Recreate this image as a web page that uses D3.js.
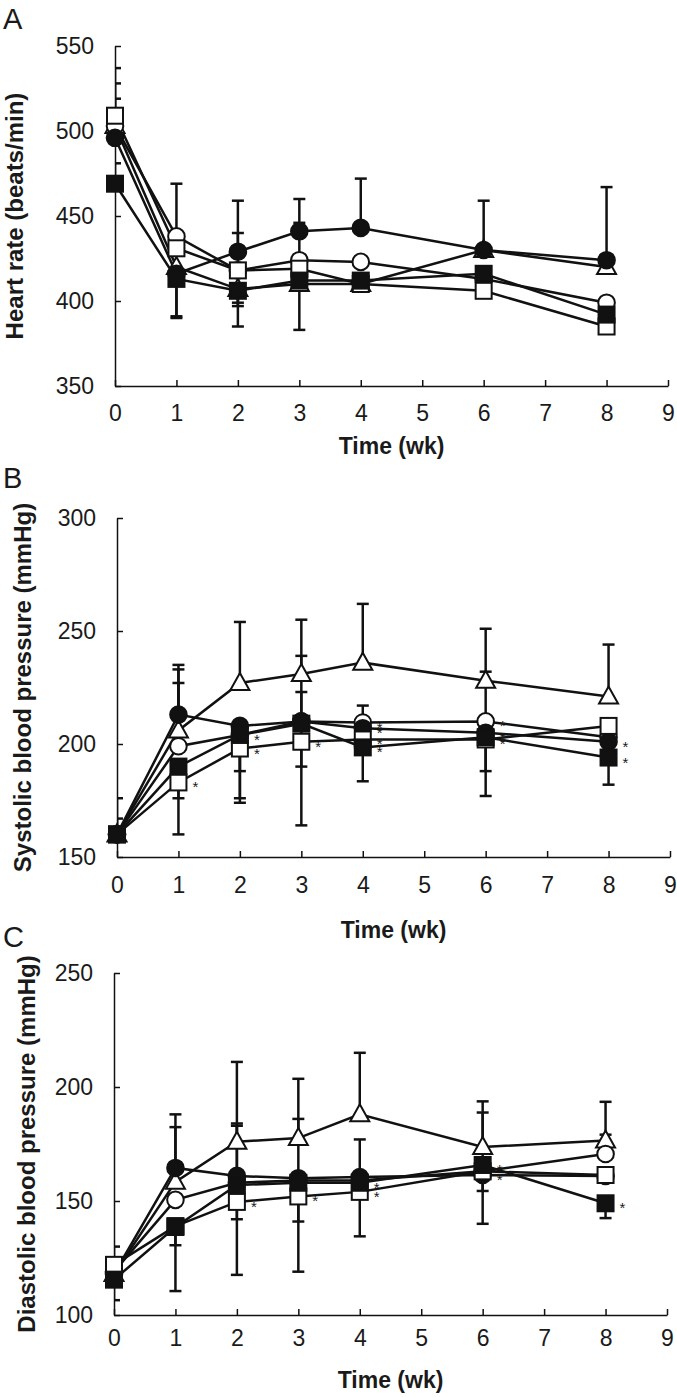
<!DOCTYPE html>
<html>
<head>
<meta charset="utf-8">
<script src="https://cdn.jsdelivr.net/npm/d3@7"></script>
<style>
  body { margin: 0; background: #fff; }
  svg { display: block; }
  text { font-family: "Liberation Sans", Arial, sans-serif; fill: #1a1a1a; }
</style>
</head>
<body>
<div id="chart"></div>
<script>
// time points (weeks) and axis ticks
const weeks = [0, 1, 2, 3, 4, 6, 8];
const xTicks = [0, 1, 2, 3, 4, 5, 6, 7, 8, 9];
const shapes = ["openTriangle", "openCircle", "filledCircle", "openSquare", "filledSquare"];

// A - heart rate (beats/min)
const hrTicks = [350, 400, 450, 500, 550];
const hrOpenTriangle = [503, 420, 407, 410, 410, 430, 420];
const hrOpenCircle = [503, 438, 418, 424, 423, 413, 399];
const hrFilledCircle = [496, 416, 429, 441, 443, 430, 424];
const hrOpenSquare = [509, 431, 418, 419, 410, 406, 385];
const hrFilledSquare = [469, 413, 406, 412, 412, 416, 392];
// error bars (+ drawn up, - drawn down, 0 none)
const hrErrOpenTriangle = [0, 0, -10, 0, 0, 0, 0];
const hrErrOpenCircle = [25, 31, -19, 22, 0, 0, 0];
const hrErrFilledCircle = [23, -25, 30, 19, 29, 29, 43];
const hrErrOpenSquare = [28, 0, 22, 0, 0, 0, 0];
const hrErrFilledSquare = [12, -23, -21, -29, 0, 0, 0];

// B - systolic blood pressure (mmHg)
const sbpTicks = [150, 200, 250, 300];
const sbpOpenTriangle = [160, 206, 227, 231, 236, 228, 221];
const sbpOpenCircle = [160, 199, 204, 210, 209.5, 210, 203];
const sbpFilledCircle = [160, 213, 208, 210, 207, 205, 201];
const sbpOpenSquare = [160, 183, 198, 201, 202, 202, 208];
const sbpFilledSquare = [160, 190, 204, 209, 198.5, 203, 194];
const sbpErrOpenTriangle = [0, 27, 27, 24, 26, 23, 23];
const sbpErrOpenCircle = [7, 28, -16, 29, 0, 22, 0];
const sbpErrFilledCircle = [16, 22, 0, 13, 10, 0, 0];
const sbpErrOpenSquare = [0, -23, -22, -37, 0, -25, 0];
const sbpErrFilledSquare = [0, -14, -30, -19, -15, -15, -12];
// weeks marked with *
const sbpStarOpenCircle = [4, 6];
const sbpStarFilledCircle = [4, 6, 8];
const sbpStarOpenSquare = [1, 2, 3, 4, 6];
const sbpStarFilledSquare = [2, 4, 6, 8];

// C - diastolic blood pressure (mmHg)
const dbpTicks = [100, 150, 200, 250];
const dbpOpenTriangle = [118, 158.4, 176, 177.6, 188, 173.7, 176.5];
const dbpOpenCircle = [119, 150.5, 158, 159, 159, 163, 170.6];
const dbpFilledCircle = [118, 164.5, 161, 160, 160.5, 161.4, 161];
const dbpOpenSquare = [122, 139, 149.6, 152, 154, 163, 161.4];
const dbpFilledSquare = [115.5, 138.6, 157, 158, 158, 165.8, 149];
const dbpErrOpenTriangle = [0, 24, 35, 26, 27, 20, 17];
const dbpErrOpenCircle = [0, 0, 25, 0, 0, 0, 8.5];
const dbpErrFilledCircle = [0, 23.5, 23, 26, 16.5, -7, 0];
const dbpErrOpenSquare = [8, -28.5, -32, -33, -19.5, -23, 0];
const dbpErrFilledSquare = [-9, -8, -15, -17, 0, 23, -6.5];
const dbpStarFilledCircle = [6];
const dbpStarOpenSquare = [2, 3, 4];
const dbpStarFilledSquare = [4, 6, 8];

const width = 677, height = 1397;
const svg = d3.select("#chart").append("svg")
  .attr("width", width).attr("height", height);

const panels = [
  {
    id: "A", letterY: 29, top: 46, bottom: 386, left: 115, domain: [350, 550], ticks: hrTicks,
    title: "Heart rate (beats/min)", titleX: 14, xLabelPad: 19, timeY: 446,
    values: [hrOpenTriangle, hrOpenCircle, hrFilledCircle, hrOpenSquare, hrFilledSquare],
    errs: [hrErrOpenTriangle, hrErrOpenCircle, hrErrFilledCircle, hrErrOpenSquare, hrErrFilledSquare],
    stars: [[], [], [], [], []]
  },
  {
    id: "B", letterY: 488, top: 518, bottom: 857, left: 117, domain: [150, 300], ticks: sbpTicks,
    title: "Systolic blood pressure (mmHg)", titleX: 22, xLabelPad: 20, timeY: 930,
    values: [sbpOpenTriangle, sbpOpenCircle, sbpFilledCircle, sbpOpenSquare, sbpFilledSquare],
    errs: [sbpErrOpenTriangle, sbpErrOpenCircle, sbpErrFilledCircle, sbpErrOpenSquare, sbpErrFilledSquare],
    stars: [[], sbpStarOpenCircle, sbpStarFilledCircle, sbpStarOpenSquare, sbpStarFilledSquare]
  },
  {
    id: "C", letterY: 947, top: 973, bottom: 1315, left: 114, domain: [100, 250], ticks: dbpTicks,
    title: "Diastolic blood pressure (mmHg)", titleX: 26, xLabelPad: 15, timeY: 1380,
    values: [dbpOpenTriangle, dbpOpenCircle, dbpFilledCircle, dbpOpenSquare, dbpFilledSquare],
    errs: [dbpErrOpenTriangle, dbpErrOpenCircle, dbpErrFilledCircle, dbpErrOpenSquare, dbpErrFilledSquare],
    stars: [[], [], dbpStarFilledCircle, dbpStarOpenSquare, dbpStarFilledSquare]
  }
];

function drawMarker(g, shape, cx, cy) {
  const fill = shape.startsWith("filled") ? "#111" : "#fff";
  if (shape.endsWith("Circle")) {
    g.append("circle").attr("cx", cx).attr("cy", cy).attr("r", 8.3)
      .attr("fill", fill).attr("stroke", "#111").attr("stroke-width", 2);
  } else if (shape.endsWith("Square")) {
    g.append("rect").attr("x", cx - 8).attr("y", cy - 8)
      .attr("width", 16).attr("height", 16)
      .attr("fill", fill).attr("stroke", "#111").attr("stroke-width", 2);
  } else {
    g.append("path")
      .attr("d", `M${cx},${cy - 10}L${cx + 9.5},${cy + 7}L${cx - 9.5},${cy + 7}Z`)
      .attr("fill", fill).attr("stroke", "#111").attr("stroke-width", 2)
      .attr("stroke-linejoin", "miter");
  }
}

panels.forEach((p) => {
  const right = p.left + 553;
  const x = d3.scaleLinear().domain([0, 9]).range([p.left, right]);
  const y = d3.scaleLinear().domain(p.domain).range([p.bottom, p.top]);
  const g = svg.append("g");

  // panel letter
  g.append("text").attr("x", 3).attr("y", p.letterY)
    .attr("font-size", 29).text(p.id);

  // clip so error bars at week 0 stop at the y axis
  svg.append("clipPath").attr("id", "clip" + p.id)
    .append("rect").attr("x", p.left).attr("y", p.top - 40)
    .attr("width", right - p.left + 30).attr("height", p.bottom - p.top + 40);

  // axes
  const yAxis = g.append("g").attr("transform", `translate(${p.left},0)`)
    .call(d3.axisLeft(y).tickValues(p.ticks).tickSizeInner(-6).tickSizeOuter(0).tickPadding(21));
  const xAxis = g.append("g").attr("transform", `translate(0,${p.bottom})`)
    .call(d3.axisBottom(x).tickValues(xTicks).tickSizeInner(-6).tickSizeOuter(0).tickPadding(p.xLabelPad));
  [yAxis, xAxis].forEach((a) => {
    a.select(".domain").attr("stroke", "#111").attr("stroke-width", 1.5);
    a.selectAll(".tick line").attr("stroke", "#111").attr("stroke-width", 1.5);
    a.selectAll(".tick text").attr("font-size", 23).attr("font-family", "Liberation Sans, Arial, sans-serif").attr("fill", "#1a1a1a");
  });

  // axis titles
  g.append("text")
    .attr("transform", `translate(${p.titleX},${(p.top + p.bottom) / 2}) rotate(-90)`)
    .attr("text-anchor", "middle").attr("dominant-baseline", "central")
    .attr("font-size", 24).attr("font-weight", "bold").text(p.title);
  g.append("text")
    .attr("x", (p.left + right) / 2).attr("y", p.timeY)
    .attr("text-anchor", "middle").attr("dominant-baseline", "central")
    .attr("font-size", 23).attr("font-weight", "bold").text("Time (wk)");

  // connecting lines
  const line = d3.line().x((d, i) => x(weeks[i])).y((d) => y(d));
  p.values.forEach((vals) => {
    g.append("path").datum(vals).attr("d", line)
      .attr("fill", "none").attr("stroke", "#111").attr("stroke-width", 2.5);
  });

  // error bars
  const eg = g.append("g").attr("clip-path", `url(#clip${p.id})`);
  p.values.forEach((vals, s) => {
    vals.forEach((v, i) => {
      const e = p.errs[s][i];
      if (!e) return;
      const cx = x(weeks[i]);
      eg.append("line").attr("x1", cx).attr("x2", cx)
        .attr("y1", y(v)).attr("y2", y(v + e))
        .attr("stroke", "#111").attr("stroke-width", 2.5);
      eg.append("line").attr("x1", cx - 6).attr("x2", cx + 6)
        .attr("y1", y(v + e)).attr("y2", y(v + e))
        .attr("stroke", "#111").attr("stroke-width", 2.5);
    });
  });

  // markers
  p.values.forEach((vals, s) => {
    vals.forEach((v, i) => drawMarker(g, shapes[s], x(weeks[i]), y(v)));
  });

  // significance stars
  p.values.forEach((vals, s) => {
    p.stars[s].forEach((wk) => {
      const v = vals[weeks.indexOf(wk)];
      g.append("text").attr("x", x(wk) + 14).attr("y", y(v) + 10)
        .attr("font-size", 15).text("*");
    });
  });
});
</script>
</body>
</html>
